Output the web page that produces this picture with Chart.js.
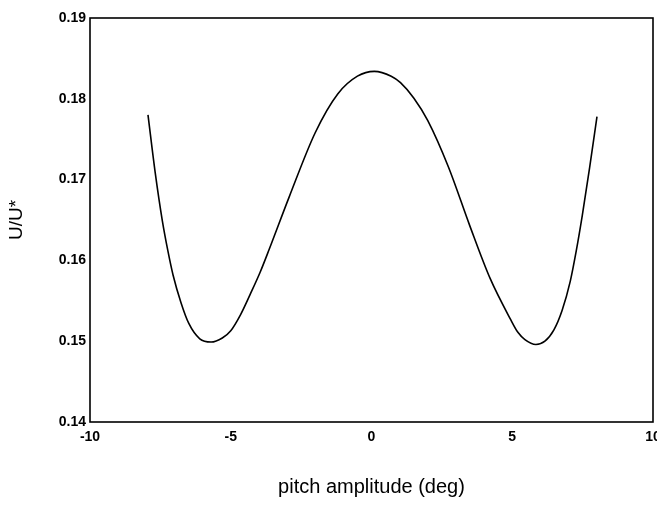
<!DOCTYPE html>
<html>
<head>
<meta charset="utf-8">
<script src="https://cdn.jsdelivr.net/npm/chart.js@4/dist/chart.umd.min.js"></script>
<style>
  html, body { margin: 0; padding: 0; background: #fff; }
  #wrap { width: 657px; height: 506px; position: relative; }
</style>
</head>
<body>
<div id="wrap"><canvas id="c" width="657" height="506"></canvas></div>
<script>
// pitch amplitude (deg)
const pitchDeg = [-7.94, -7.685, -7.43, -7.24, -7.05, -6.77, -6.49, -6.10, -5.70, -5.30, -5.00, -4.65, -4.31, -3.96, -3.62, -2.93, -2.00, -1.20, -0.50, 0.10, 0.70, 1.03, 1.50, 2.00, 2.74, 3.48, 4.21, 4.94, 5.20, 5.45, 5.84, 6.16, 6.48, 6.77, 7.06, 7.275, 7.49, 7.75, 8.01];
// U/U*
const uRatio = [0.1780, 0.1709, 0.1649, 0.1613, 0.1582, 0.1548, 0.1522, 0.1503, 0.1499, 0.1504, 0.1513, 0.1533, 0.1558, 0.1585, 0.1615, 0.1678, 0.1758, 0.1806, 0.1828, 0.1834, 0.1828, 0.1820, 0.1801, 0.1773, 0.1715, 0.1644, 0.1578, 0.1527, 0.1511, 0.1502, 0.1496, 0.1500, 0.1514, 0.1538, 0.1574, 0.1612, 0.1656, 0.1715, 0.1778];
const xTicks = [-10, -5, 0, 5, 10];
const yTicks = [0.14, 0.15, 0.16, 0.17, 0.18, 0.19];
const xTitle = 'pitch amplitude (deg)';
const yTitle = 'U/U*';

const points = pitchDeg.map((x, i) => ({ x: x, y: uRatio[i] }));

const frame = {
  id: 'frame',
  afterDatasetsDraw(chart) {
    const a = chart.chartArea, ctx = chart.ctx;
    ctx.save();
    ctx.strokeStyle = '#000';
    ctx.lineWidth = 1.6;
    ctx.strokeRect(a.left, a.top, a.right - a.left, a.bottom - a.top);
    ctx.restore();
  }
};

const tickFont = { family: 'Liberation Sans, Arial, sans-serif', size: 14, weight: 'bold' };

new Chart(document.getElementById('c'), {
  type: 'scatter',
  data: {
    datasets: [{
      data: points,
      showLine: true,
      borderColor: '#000',
      borderWidth: 1.6,
      pointRadius: 0,
      fill: false,
      cubicInterpolationMode: 'monotone'
    }]
  },
  options: {
    responsive: false,
    animation: false,
    events: [],
    layout: { padding: { left: 0, right: 4, top: 18, bottom: 0 } },
    plugins: { legend: { display: false }, tooltip: { enabled: false } },
    scales: {
      x: {
        type: 'linear',
        min: xTicks[0], max: xTicks[xTicks.length - 1],
        afterBuildTicks: s => { s.ticks = xTicks.map(v => ({ value: v })); },
        afterFit: s => { s.height = 84; s.paddingLeft = 0; s.paddingRight = 0; },
        grid: { display: false, drawTicks: false },
        border: { display: false },
        ticks: { color: '#000', font: tickFont, padding: 7, autoSkip: false, maxRotation: 0,
                 callback: v => String(v) },
        title: { display: true, text: xTitle, color: '#000',
                 font: { family: 'Liberation Sans, Arial, sans-serif', size: 20 },
                 padding: { top: 0, bottom: 7 } }
      },
      y: {
        type: 'linear',
        min: yTicks[0], max: yTicks[yTicks.length - 1],
        afterBuildTicks: s => { s.ticks = yTicks.map(v => ({ value: v })); },
        afterFit: s => { s.width = 90; s.paddingTop = 0; s.paddingBottom = 0; },
        grid: { display: false, drawTicks: false },
        border: { display: false },
        ticks: { color: '#000', font: tickFont, padding: 4, autoSkip: false,
                 callback: v => Number(v).toFixed(2) },
        title: { display: true, text: yTitle, color: '#000',
                 font: { family: 'Liberation Sans, Arial, sans-serif', size: 19 },
                 padding: { top: 5, bottom: 0 } }
      }
    }
  },
  plugins: [frame]
});
</script>
</body>
</html>
